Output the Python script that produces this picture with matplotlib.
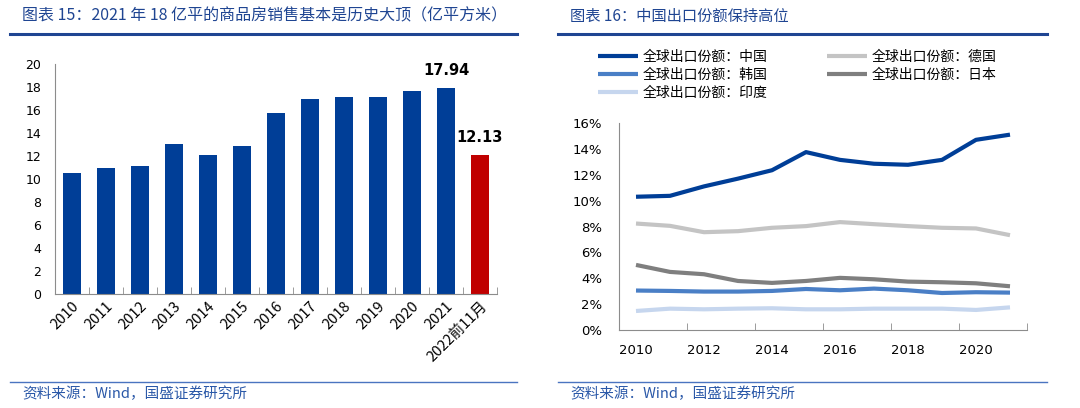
import matplotlib
matplotlib.use("Agg")
import matplotlib.pyplot as plt
from matplotlib.lines import Line2D
from matplotlib.ticker import FuncFormatter

plt.rcParams['font.family'] = ['DejaVu Sans', 'Noto Sans CJK SC']

# 左图：商品房销售面积（亿平方米）
years_bar = ['2010', '2011', '2012', '2013', '2014', '2015', '2016',
             '2017', '2018', '2019', '2020', '2021', '2022前11月']
sales_area = [10.48, 10.99, 11.13, 13.06, 12.06, 12.85, 15.73,
              16.94, 17.17, 17.16, 17.61, 17.94, 12.13]

# 右图：全球出口份额（%）
years_line = list(range(2010, 2022))
share_china = [10.3, 10.37, 11.1, 11.7, 12.35, 13.75, 13.15, 12.85, 12.77, 13.15, 14.7, 15.1]
share_germany = [8.23, 8.05, 7.56, 7.64, 7.9, 8.03, 8.34, 8.18, 8.03, 7.9, 7.85, 7.33]
share_korea = [3.05, 3.02, 2.97, 2.97, 3.02, 3.17, 3.07, 3.2, 3.07, 2.86, 2.92, 2.89]
share_japan = [5.03, 4.49, 4.31, 3.79, 3.64, 3.79, 4.03, 3.92, 3.74, 3.69, 3.61, 3.38]
share_india = [1.47, 1.65, 1.6, 1.65, 1.68, 1.6, 1.6, 1.65, 1.65, 1.65, 1.55, 1.75]

W, H = 1080, 408
fig = plt.figure(figsize=(W / 100, H / 100), dpi=100)

title_color = '#1F4592'
src_color = '#2A58A8'
axis_color = '#8C8C8C'
cjk = ['Noto Sans CJK SC', 'DejaVu Sans']


def px_axes(x0, y0, x1, y1):
    return fig.add_axes([x0 / W, 1 - y1 / H, (x1 - x0) / W, (y1 - y0) / H])


def hline(x0, x1, y, lw, color):
    fig.add_artist(Line2D([x0 / W, x1 / W], [1 - y / H, 1 - y / H],
                          transform=fig.transFigure, lw=lw, color=color))


# 标题、分隔线、资料来源
fig.text(22 / W, 1 - 16 / H, '图表 15：2021 年 18 亿平的商品房销售基本是历史大顶（亿平方米）',
         family=cjk, fontsize=11.5, color=title_color, va='center')
fig.text(570 / W, 1 - 16 / H, '图表 16：中国出口份额保持高位',
         family=cjk, fontsize=11, color=title_color, va='center')
hline(10, 517, 34, 2.2, title_color)
hline(558, 1047, 34, 2.2, title_color)
hline(10, 517, 382, 1.0, '#4A74C0')
hline(558, 1047, 382, 1.0, '#4A74C0')
fig.text(22 / W, 1 - 394 / H, '资料来源：Wind，国盛证券研究所',
         family=cjk, fontsize=10.5, color=src_color, va='center')
fig.text(570 / W, 1 - 394 / H, '资料来源：Wind，国盛证券研究所',
         family=cjk, fontsize=10.5, color=src_color, va='center')

# 左图
ax1 = px_axes(55, 64, 497, 294)
colors = ['#003E97'] * (len(sales_area) - 1) + ['#C00000']
xs = list(range(len(sales_area)))
ax1.bar(xs, sales_area, width=0.54, color=colors)
ax1.set_xlim(-0.5, len(sales_area) - 0.5)
ax1.set_ylim(0, 20)
ax1.set_yticks(range(0, 21, 2))
ax1.set_xticks(xs)
ax1.set_xticklabels(years_bar, rotation=45, ha='right', rotation_mode='anchor',
                    family=cjk, fontsize=10.5)
ax1.tick_params(axis='x', length=0, pad=4)
ax1.set_xticks([x + 0.5 for x in xs], minor=True)
ax1.tick_params(axis='x', which='minor', direction='in', length=5, color=axis_color)
ax1.tick_params(axis='y', length=0, labelsize=9, pad=10)
for s in ['top', 'right']:
    ax1.spines[s].set_visible(False)
for s in ['left', 'bottom']:
    ax1.spines[s].set_color(axis_color)
for i in (11, 12):
    ax1.text(i, sales_area[i] + 0.8, f'{sales_area[i]:.2f}', ha='center', va='bottom',
             fontsize=10.5, fontweight='bold')

# 右图
ax2 = px_axes(619, 123, 1027, 330)
idx = list(range(len(years_line)))
series = [
    ('全球出口份额：中国', share_china, '#003E97'),
    ('全球出口份额：德国', share_germany, '#C4C4C4'),
    ('全球出口份额：韩国', share_korea, '#4A7FC6'),
    ('全球出口份额：日本', share_japan, '#7F7F7F'),
    ('全球出口份额：印度', share_india, '#C6D6EE'),
]
handles = {}
for name, vals, c in series:
    h, = ax2.plot(idx, vals, color=c, lw=3, solid_capstyle='butt', label=name)
    handles[name] = h
ax2.set_xlim(-0.5, len(years_line) - 0.5)
ax2.set_ylim(0, 16)
ax2.set_yticks(range(0, 17, 2))
ax2.yaxis.set_major_formatter(FuncFormatter(lambda v, p: f'{v:.0f}%'))
ax2.set_xticks(idx[::2])
ax2.set_xticklabels([str(y) for y in years_line[::2]])
ax2.tick_params(axis='x', length=0, labelsize=9.5, pad=10)
ax2.set_xticks([i + 1.5 for i in idx[::2]][:-1] + [len(years_line) - 0.5], minor=True)
ax2.tick_params(axis='x', which='minor', direction='in', length=5, color=axis_color)
ax2.tick_params(axis='y', length=0, labelsize=9.5, pad=12)
for s in ['top', 'right']:
    ax2.spines[s].set_visible(False)
for s in ['left', 'bottom']:
    ax2.spines[s].set_color(axis_color)

# 图例按行排列：中国、德国 / 韩国、日本 / 印度
order = ['全球出口份额：中国', '全球出口份额：韩国', '全球出口份额：印度',
         '全球出口份额：德国', '全球出口份额：日本']
fig.legend(handles=[handles[k] for k in order], loc='upper left',
           bbox_to_anchor=(598 / W, 1 - 50 / H),
           ncol=2, frameon=False, prop={'family': cjk, 'size': 10},
           handlelength=2.9, handletextpad=0.3, columnspacing=4.3,
           labelspacing=0.3, borderaxespad=0, borderpad=0)

fig.savefig('out.png', dpi=100)
